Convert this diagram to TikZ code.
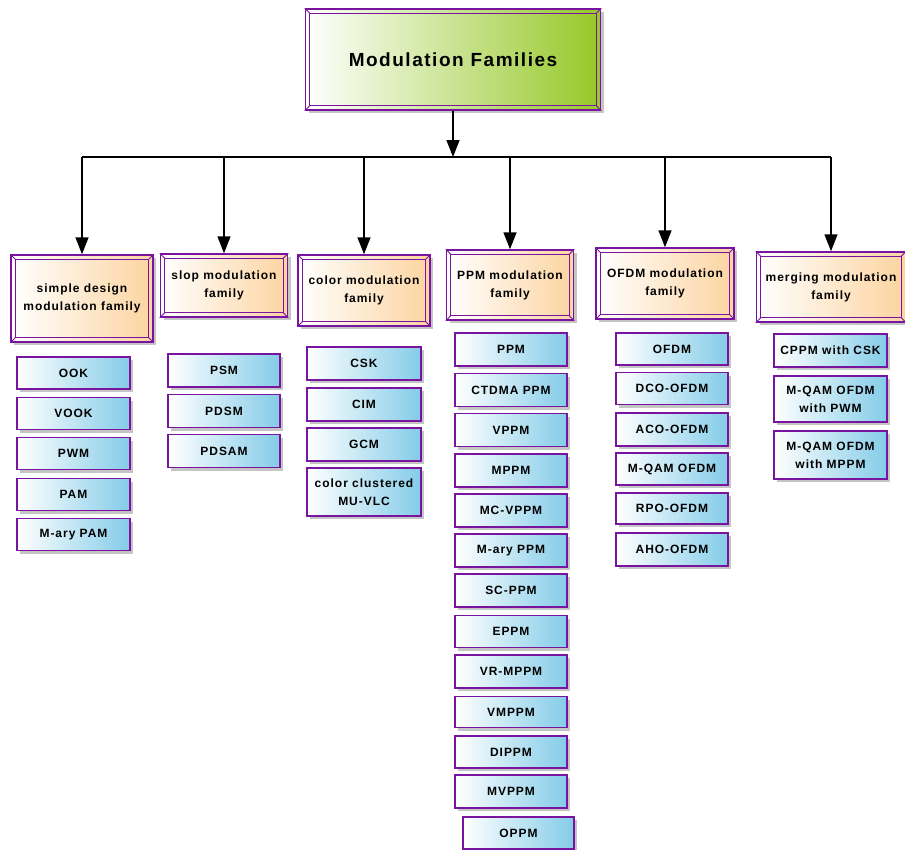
\documentclass[tikz,border=0pt]{standalone}
\usepackage{fontspec}
\newfontfamily\lab[LetterSpace=8]{Liberation Sans}
\usetikzlibrary{shadows,arrows.meta}
\definecolor{pur}{RGB}{120,20,160}
\definecolor{peach}{RGB}{252,212,160}
\definecolor{sky}{RGB}{132,204,232}
\definecolor{lime}{RGB}{150,200,40}
\newcommand\bev[2]{%
  \draw[pur, line width=1.1bp] ([shift={(#2,#2)}]#1.north west) rectangle ([shift={(-#2,-#2)}]#1.south east);
  \draw[pur, line width=0.8bp] (#1.north west) -- ++(#2,#2) (#1.north east) -- ++(-#2,#2)
    (#1.south west) -- ++(#2,-#2) (#1.south east) -- ++(-#2,-#2);}
\begin{document}
\begin{tikzpicture}[x=1bp,y=-1bp,
  base/.style={draw=pur, line width=1.5bp, inner sep=1bp, align=center,
    font=\lab\bfseries\fontsize{12bp}{18bp}\selectfont, text=black,
    drop shadow={shadow xshift=3bp, shadow yshift=-3bp, fill=black!25, opacity=0.9}},
  leaf/.style={base, left color=white, right color=sky},
  fam/.style={base, left color=white, right color=peach},
  titlebox/.style={base, left color=white, right color=lime,
    font=\lab\bfseries\fontsize{19bp}{22bp}\selectfont},
  conn/.style={black, line width=1.5bp},
  arr/.style={conn, -{Triangle[width=13bp,length=17bp]}},
  L/.style={leaf, minimum width=113bp, minimum height=32bp}
]
\useasboundingbox (0,0) rectangle (905,850);

% title
\node[titlebox, minimum width=295bp, minimum height=101bp] (top) at (453,59.5) {Modulation Families};
\bev{top}{5}

% families
\node[fam, minimum width=142bp, minimum height=87bp] (simple) at (82,298.5) {simple design\\modulation family};
\node[fam, minimum width=127bp, minimum height=63bp] (slop) at (224,285.5) {slop modulation\\family};
\node[fam, minimum width=132bp, minimum height=71bp] (color) at (364,290.5) {color modulation\\family};
\node[fam, minimum width=127bp, minimum height=70bp] (ppm) at (510,285) {PPM modulation\\family};
\node[fam, minimum width=138bp, minimum height=71bp] (ofdm) at (665,283.5) {OFDM modulation\\family};
\node[fam, minimum width=149bp, minimum height=70bp] (merge) at (831,287) {merging modulation\\family};
\foreach \n in {simple,slop,color,ppm,ofdm,merge} {\bev{\n}{5}}

% connectors
\coordinate (bar) at (453,157);
\draw[arr] (top.south) -- (top.south |- bar);
\draw[conn] (simple.north |- bar) -- (merge.north |- bar);
\foreach \n in {simple,slop,color,ppm,ofdm,merge} {\draw[arr] (\n.north |- bar) -- (\n.north);}

% simple design children
\node[L] (ook) at (73.5,373) {OOK};
\node[L] (vook) at (73.5,413.5) {VOOK};
\node[L] (pwm) at (73.5,453.5) {PWM};
\node[L] (pam) at (73.5,494.5) {PAM};
\node[L] (mpam) at (73.5,534.5) {M-ary PAM};

% slop children
\node[L, minimum width=112bp, minimum height=33bp] (psm) at (224,370.5) {PSM};
\node[L, minimum width=112bp, minimum height=33bp] (pdsm) at (224,411) {PDSM};
\node[L, minimum width=112bp, minimum height=33bp] (pdsam) at (224,451) {PDSAM};

% color children
\node[L, minimum width=114bp, minimum height=33bp] (csk) at (364,363.5) {CSK};
\node[L, minimum width=114bp, minimum height=33bp] (cim) at (364,404.5) {CIM};
\node[L, minimum width=114bp, minimum height=33bp] (gcm) at (364,444.5) {GCM};
\node[L, minimum width=114bp, minimum height=48bp] (ccm) at (364,492) {color clustered\\MU-VLC};

% PPM children
\node[L, minimum width=112bp, minimum height=33bp] (p1) at (511,349.5) {PPM};
\node[L, minimum width=112bp, minimum height=33bp] (p2) at (511,390) {CTDMA PPM};
\node[L, minimum width=112bp, minimum height=33bp] (p3) at (511,430) {VPPM};
\node[L, minimum width=112bp, minimum height=33bp] (p4) at (511,470.5) {MPPM};
\node[L, minimum width=112bp, minimum height=33bp] (p5) at (511,510.5) {MC-VPPM};
\node[L, minimum width=112bp, minimum height=33bp] (p6) at (511,550.5) {M-ary PPM};
\node[L, minimum width=112bp, minimum height=33bp] (p7) at (511,590.5) {SC-PPM};
\node[L, minimum width=112bp, minimum height=32bp] (p8) at (511,631.5) {EPPM};
\node[L, minimum width=112bp, minimum height=33bp] (p9) at (511,671.5) {VR-MPPM};
\node[L, minimum width=112bp, minimum height=31bp] (p10) at (511,712) {VMPPM};
\node[L, minimum width=112bp, minimum height=32bp] (p11) at (511,752) {DIPPM};
\node[L, minimum width=112bp, minimum height=33bp] (p12) at (511,791.5) {MVPPM};
\node[L, minimum width=111bp, minimum height=32bp] (p13) at (518.5,833) {OPPM};

% OFDM children
\node[L, minimum width=112bp] (o1) at (672,349) {OFDM};
\node[L, minimum width=112bp] (o2) at (672,388.5) {DCO-OFDM};
\node[L, minimum width=112bp, minimum height=33bp] (o3) at (672,429.5) {ACO-OFDM};
\node[L, minimum width=112bp] (o4) at (672,469) {M-QAM OFDM};
\node[L, minimum width=112bp, minimum height=31bp] (o5) at (672,508.5) {RPO-OFDM};
\node[L, minimum width=112bp, minimum height=33bp] (o6) at (672,549.5) {AHO-OFDM};

% merging children
\node[L, minimum height=33bp] (m1) at (830.5,350.5) {CPPM with CSK};
\node[L, minimum height=46bp] (m2) at (830.5,399) {M-QAM OFDM\\with PWM};
\node[L, minimum height=48bp] (m3) at (830.5,455) {M-QAM OFDM\\with MPPM};
\end{tikzpicture}
\end{document}
